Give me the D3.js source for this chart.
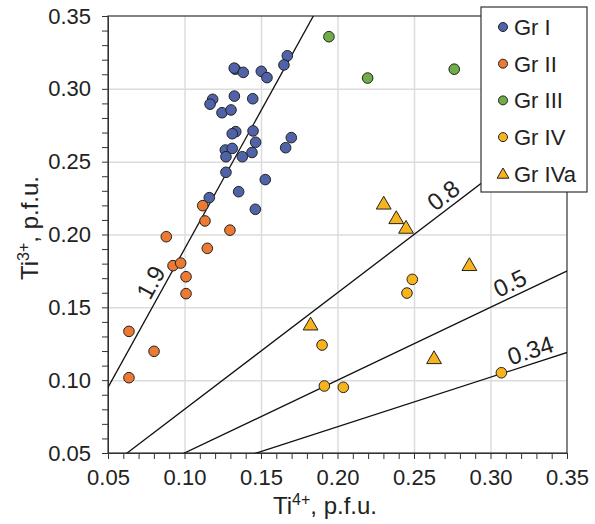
<!DOCTYPE html>
<html><head>
<meta charset="utf-8">
<script src="https://d3js.org/d3.v7.min.js"></script>
<style>
  body { margin: 0; background: #fff; }
  text { font-family: "Liberation Sans", Arial, sans-serif; fill: #222; }
  .gridlines line { stroke: #dcdcdc; stroke-width: 1.5; }
  .gridlines .domain { stroke: none; }
  .axis path, .axis line { stroke: #333; }
</style>
</head>
<body>
<svg id="chart" width="595" height="524"></svg>
<script>
// Ti4+ (x) and Ti3+ (y) per group, p.f.u.
const grIx = [0.1672, 0.1650, 0.1332, 0.1325, 0.1384, 0.1502, 0.1539, 0.1184, 0.1167, 0.1326, 0.1446,
              0.1245, 0.1304, 0.1335, 0.1312, 0.1448, 0.1465, 0.1698, 0.1661, 0.1267, 0.1312, 0.1441,
              0.1271, 0.1378, 0.1271, 0.1528, 0.1354, 0.1162, 0.1463];
const grIy = [0.3227, 0.3164, 0.3135, 0.3142, 0.3113, 0.3120, 0.3077, 0.2928, 0.2895, 0.2950, 0.2932,
              0.2836, 0.2855, 0.2706, 0.2692, 0.2711, 0.2633, 0.2665, 0.2596, 0.2580, 0.2591, 0.2563,
              0.2534, 0.2534, 0.2427, 0.2377, 0.2294, 0.2253, 0.2173];
const grIIx = [0.1119, 0.1134, 0.1297, 0.0881, 0.1149, 0.0925, 0.0975, 0.1010, 0.1010, 0.0637, 0.0801, 0.0637];
const grIIy = [0.2198, 0.2093, 0.2030, 0.1985, 0.1905, 0.1786, 0.1804, 0.1710, 0.1594, 0.1335, 0.1198, 0.1017];
const grIIIx = [0.1944, 0.2197, 0.2763];
const grIIIy = [0.3358, 0.3074, 0.3135];
const grIVx = [0.2489, 0.2454, 0.1899, 0.1914, 0.2038, 0.3071];
const grIVy = [0.1692, 0.1598, 0.1241, 0.0960, 0.0951, 0.1051];
const grIVax = [0.2302, 0.2384, 0.2448, 0.2862, 0.1824, 0.2631];
const grIVay = [0.2204, 0.2104, 0.2038, 0.1782, 0.1374, 0.1143];

const groupNames = ["Gr I", "Gr II", "Gr III", "Gr IV", "Gr IVa"];
const groupColors = ["#5063a9", "#ec7a33", "#70ad47", "#f7b41c", "#f7b41c"];
const groupShapes = ["circle", "circle", "circle", "circle", "triangle"];

// Ti3+/Ti4+ ratio lines and where their labels sit along them (x value)
const ratios = [1.9, 0.8, 0.5, 0.34];
const ratioLabelX = [0.0856, 0.2745, 0.3165, 0.3288];

const ticks = [0.05, 0.10, 0.15, 0.20, 0.25, 0.30, 0.35];

const svg = d3.select("#chart");
const margin = {top: 16, right: 28, bottom: 71, left: 108};
const chartWidth = 595 - margin.left - margin.right;
const chartHeight = 524 - margin.top - margin.bottom;

const xScale = d3.scaleLinear().domain([0.05, 0.35]).range([0, chartWidth]);
const yScale = d3.scaleLinear().domain([0.05, 0.35]).range([chartHeight, 0]);

const chart = svg.append("g")
  .attr("transform", "translate(" + margin.left + "," + margin.top + ")");

// gridlines
chart.append("g").attr("class", "gridlines")
  .call(d3.axisBottom(xScale).tickValues(ticks.slice(1, -1)).tickSize(chartHeight).tickFormat(""));
chart.append("g").attr("class", "gridlines")
  .call(d3.axisLeft(yScale).tickValues(ticks.slice(1, -1)).tickSize(-chartWidth).tickFormat(""));

// frame
chart.append("rect")
  .attr("width", chartWidth).attr("height", chartHeight)
  .attr("fill", "none").attr("stroke", "#333").attr("stroke-width", 1.2);

// minor ticks every 0.01
const minor = d3.range(5, 36).map(d => d / 100);
chart.append("g").attr("class", "axis")
  .attr("transform", "translate(0," + chartHeight + ")")
  .call(d3.axisBottom(xScale).tickValues(minor).tickSize(6).tickFormat("").tickSizeOuter(0));
chart.append("g").attr("class", "axis")
  .call(d3.axisLeft(yScale).tickValues(minor).tickSize(6).tickFormat("").tickSizeOuter(0));

// tick labels
const xAxis = chart.append("g")
  .attr("transform", "translate(0," + chartHeight + ")")
  .call(d3.axisBottom(xScale).tickValues(ticks).tickSize(0).tickPadding(16).tickFormat(d3.format(".2f")));
xAxis.select(".domain").remove();
xAxis.selectAll("text").style("font-size", "22px").attr("fill", "#333");

const yAxis = chart.append("g")
  .call(d3.axisLeft(yScale).tickValues(ticks).tickSize(0).tickPadding(17).tickFormat(d3.format(".2f")));
yAxis.select(".domain").remove();
yAxis.selectAll("text").style("font-size", "22px").attr("fill", "#333");

// ratio lines, clipped to the plot area
svg.append("clipPath").attr("id", "plotclip")
  .append("rect").attr("width", chartWidth).attr("height", chartHeight);
const lineLayer = chart.append("g").attr("clip-path", "url(#plotclip)");
ratios.forEach((r, i) => {
  lineLayer.append("line")
    .attr("x1", xScale(0)).attr("y1", yScale(0))
    .attr("x2", xScale(0.5)).attr("y2", yScale(0.5 * r))
    .attr("stroke", "#111").attr("stroke-width", 1.3);

  const lx = ratioLabelX[i];
  const px = xScale(lx), py = yScale(lx * r);
  const angle = Math.atan2(yScale(0) - yScale(r), xScale(1) - xScale(0)) * 180 / Math.PI;
  chart.append("text")
    .attr("transform", "translate(" + px + "," + py + ") rotate(" + (-angle) + ")")
    .attr("text-anchor", "middle")
    .attr("dy", -5)
    .style("font-size", "24px")
    .attr("fill", "#222")
    .text(r);
});

// points
const groups = [[grIx, grIy], [grIIx, grIIy], [grIIIx, grIIIy], [grIVx, grIVy], [grIVax, grIVay]];
const triangle = d3.symbol().type(d3.symbolTriangle).size(95);
groups.forEach((g, gi) => {
  g[0].forEach((x, i) => {
    if (groupShapes[gi] === "triangle") {
      chart.append("path")
        .attr("d", triangle())
        .attr("transform", "translate(" + xScale(x) + "," + yScale(g[1][i]) + ")")
        .attr("fill", groupColors[gi]).attr("stroke", "#222").attr("stroke-width", 1);
    } else {
      chart.append("circle")
        .attr("cx", xScale(x)).attr("cy", yScale(g[1][i]))
        .attr("r", 5.3)
        .attr("fill", groupColors[gi]).attr("stroke", "#222").attr("stroke-width", 1);
    }
  });
});

// legend
const legend = svg.append("g").attr("transform", "translate(481,7)");
legend.append("rect").attr("width", 106).attr("height", 185)
  .attr("fill", "#fff").attr("stroke", "#333").attr("stroke-width", 1.2);
groupNames.forEach((name, i) => {
  const ly = 20 + i * 36.7;
  if (groupShapes[i] === "triangle") {
    legend.append("path").attr("d", d3.symbol().type(d3.symbolTriangle).size(60)())
      .attr("transform", "translate(22," + (ly + 1) + ")")
      .attr("fill", groupColors[i]).attr("stroke", "#222").attr("stroke-width", 1);
  } else {
    legend.append("circle").attr("cx", 22).attr("cy", ly).attr("r", 4.5)
      .attr("fill", groupColors[i]).attr("stroke", "#222").attr("stroke-width", 1);
  }
  legend.append("text").attr("x", 33).attr("y", ly + 8)
    .style("font-size", "22px").attr("fill", "#222").text(name);
});

// axis titles
const xt = svg.append("text")
  .attr("x", 325).attr("y", 514)
  .attr("text-anchor", "middle")
  .style("font-size", "24px").attr("fill", "#333");
xt.append("tspan").text("Ti");
xt.append("tspan").attr("dy", -9).style("font-size", "16px").text("4+");
xt.append("tspan").attr("dy", 9).text(", p.f.u.");

const yt = svg.append("text")
  .attr("transform", "translate(38,228) rotate(-90)")
  .attr("text-anchor", "middle")
  .style("font-size", "24px").attr("fill", "#333");
yt.append("tspan").text("Ti");
yt.append("tspan").attr("dy", -9).style("font-size", "16px").text("3+");
yt.append("tspan").attr("dy", 9).text(", p.f.u.");
</script>
</body>
</html>
